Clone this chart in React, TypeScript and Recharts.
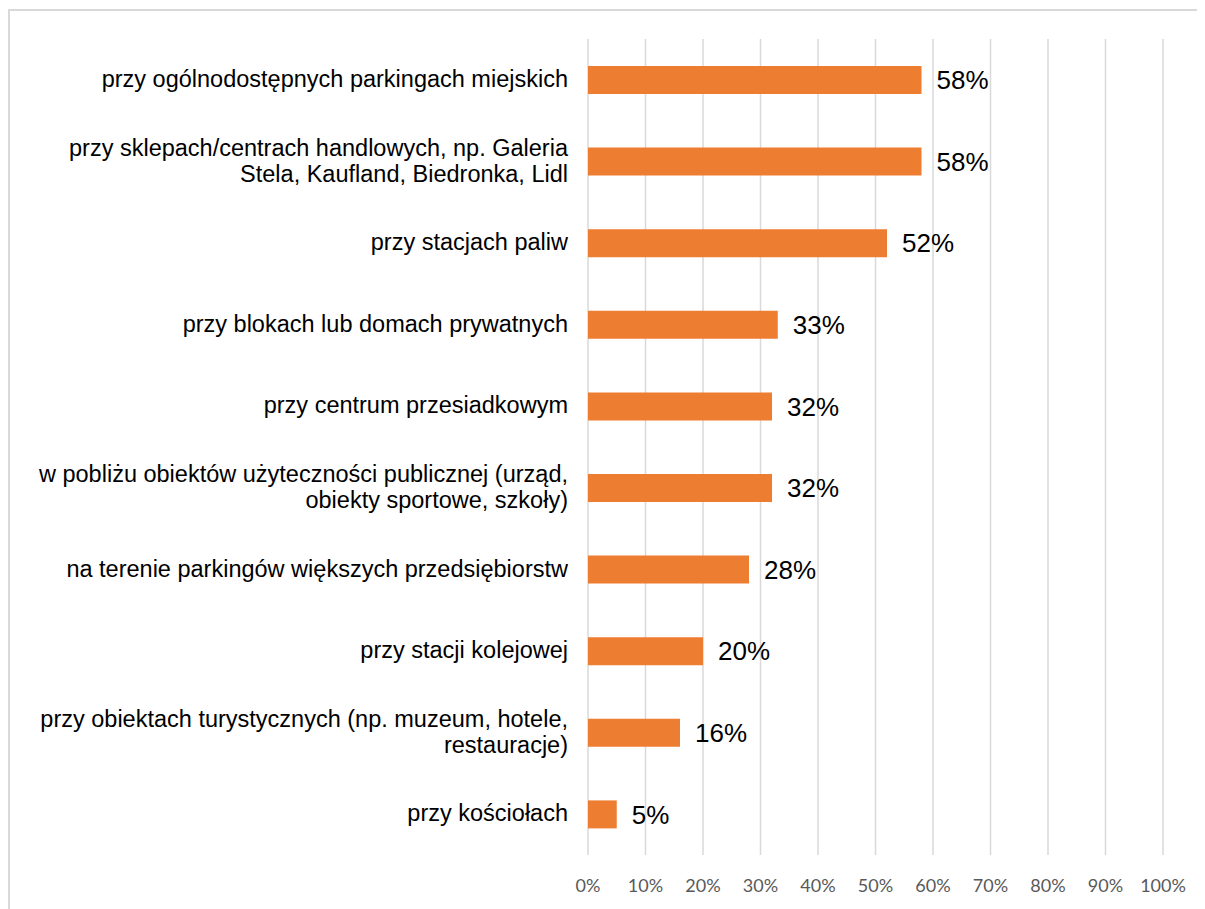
import React from 'react';
import { BarChart, Bar, XAxis, YAxis, CartesianGrid, LabelList } from 'recharts';

const categories = [
  'przy ogólnodostępnych parkingach miejskich',
  'przy sklepach/centrach handlowych, np. Galeria\nStela, Kaufland, Biedronka, Lidl',
  'przy stacjach paliw',
  'przy blokach lub domach prywatnych',
  'przy centrum przesiadkowym',
  'w pobliżu obiektów użyteczności publicznej (urząd,\nobiekty sportowe, szkoły)',
  'na terenie parkingów większych przedsiębiorstw',
  'przy stacji kolejowej',
  'przy obiektach turystycznych (np. muzeum, hotele,\nrestauracje)',
  'przy kościołach',
];

const shares = [0.58, 0.58, 0.52, 0.33, 0.32, 0.32, 0.28, 0.2, 0.16, 0.05];

const xTicks = [0, 0.1, 0.2, 0.3, 0.4, 0.5, 0.6, 0.7, 0.8, 0.9, 1];

const data = categories.map((name, i) => ({ name, value: shares[i] }));

const pct = (v: number) => `${Math.round(v * 100)}%`;

const FONT = "'Liberation Sans', Arial, sans-serif";

// category labels can span two lines, split on \n
const CategoryTick = (props: any) => {
  const { x, y, payload } = props;
  const lines: string[] = String(payload.value).split('\n');
  const lh = 26;
  const start = y - 1 - ((lines.length - 1) * lh) / 2;
  return (
    <g>
      {lines.map((line, i) => (
        <text
          key={i}
          x={x}
          y={start + i * lh}
          dy="0.35em"
          textAnchor="end"
          fontFamily={FONT}
          fontSize={23.5}
          fill="#000"
        >
          {line}
        </text>
      ))}
    </g>
  );
};

const App: React.FC = () => {
  return (
    <div style={{ position: 'relative', width: 1197, height: 901 }}>
      {/* question text above the chart, mostly cut off in the source */}
      <div style={{ position: 'absolute', left: -8, top: -8, width: 600, height: 9, overflow: 'hidden' }}>
        <div
          style={{
            position: 'absolute',
            left: 10,
            top: -19,
            fontFamily: FONT,
            fontStyle: 'italic',
            fontSize: 23,
            lineHeight: '26px',
            color: '#000',
            whiteSpace: 'nowrap',
          }}
        >
          elektrycznych w Cieszynie?
        </div>
      </div>
      <div
        style={{
          position: 'absolute',
          left: 0,
          top: 1,
          width: 1197,
          height: 900,
          borderTop: '2px solid #d9d9d9',
          borderLeft: '2px solid #d9d9d9',
          boxSizing: 'border-box',
          background: '#fff',
        }}
      >
        <BarChart
          width={1195}
          height={898}
          data={data}
          layout="vertical"
          margin={{ top: 28, right: 42, bottom: 24, left: 0 }}
        >
          <CartesianGrid horizontal={false} stroke="#d9d9d9" strokeWidth={1.5} />
          <XAxis
            type="number"
            domain={[0, 1]}
            ticks={xTicks}
            tickFormatter={pct}
            axisLine={false}
            tickLine={false}
            tickMargin={18}
            tick={{ fill: '#595959', fontSize: 18, fontFamily: 'Lato, sans-serif' }}
            interval={0}
          />
          <YAxis
            type="category"
            dataKey="name"
            width={578}
            axisLine={false}
            tickLine={false}
            tickMargin={14}
            tick={<CategoryTick />}
            interval={0}
          />
          <Bar dataKey="value" fill="#ed7d31" barSize={28} isAnimationActive={false}>
            <LabelList
              dataKey="value"
              position="right"
              offset={15}
              formatter={(v: any) => pct(Number(v))}
              fill="#000"
              fontSize={26}
              fontFamily={FONT}
            />
          </Bar>
        </BarChart>
      </div>
    </div>
  );
};

export default App;
